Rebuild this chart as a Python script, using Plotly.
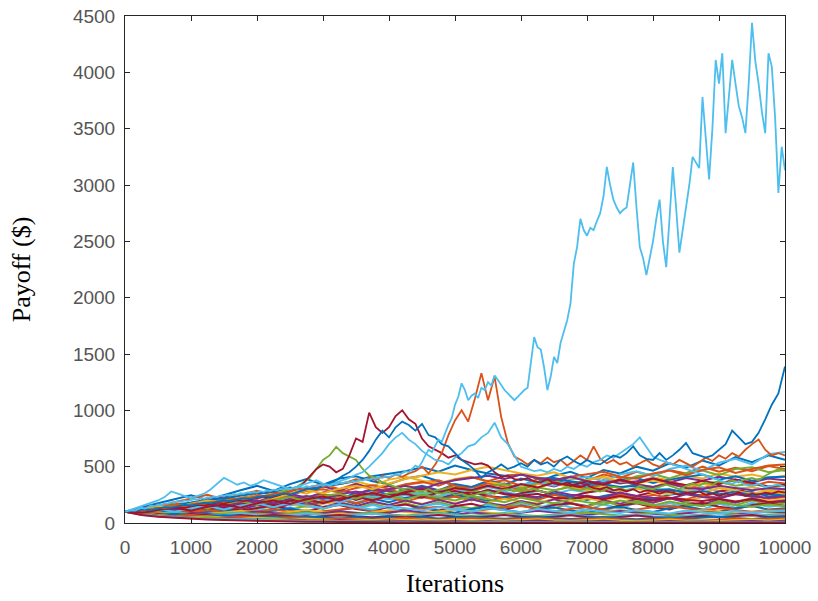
import plotly.graph_objects as go

# MATLAB default colour order
COLORS = ["#0072BD", "#D95319", "#EDB120", "#7E2F8E", "#77AC30", "#4DBEEE", "#A2142F"]

X_TICKS = [0, 1000, 2000, 3000, 4000, 5000, 6000, 7000, 8000, 9000, 10000]
Y_TICKS = [0, 500, 1000, 1500, 2000, 2500, 3000, 3500, 4000, 4500]

# ---- background paths (read every 250 iterations) ----
n1 = [100,125,110,140,165,135,170,195,160,205,230,190,240,215,265,290,250,300,330,290,345,320,370,340,395,360,420,455,400,470,440,500,465,530,490,555,510,585,540,600,560]
n2 = [100,118,140,115,160,185,150,195,170,220,245,205,255,230,215,270,300,255,310,285,340,300,355,380,330,390,350,410,375,430,400,455,420,470,440,500,455,490,460,505,480]
n3 = [100,85,115,140,110,150,125,170,195,160,200,180,225,250,210,255,230,275,300,260,305,280,320,295,340,310,355,330,370,345,390,360,405,380,420,395,440,410,430,400,420]
n4 = [100,120,145,125,170,200,165,215,190,235,260,225,270,300,255,305,330,290,320,280,310,290,330,350,305,355,325,365,340,380,350,370,395,360,400,375,410,385,360,395,380]
n5 = [100,88,110,130,105,140,160,130,170,190,160,200,215,185,225,245,210,250,270,235,275,295,255,300,280,315,290,320,300,340,310,345,320,355,325,350,365,330,350,315,330]
n6 = [100,112,90,120,140,115,150,170,135,175,195,160,200,220,180,225,245,210,250,270,230,215,255,280,245,285,255,295,270,305,280,315,290,270,300,320,285,305,320,290,300]
n7 = [100,120,140,115,150,175,140,180,200,165,210,185,230,250,205,245,225,265,240,215,255,275,240,225,265,290,250,235,270,290,255,240,275,295,260,245,280,300,265,255,270]
n8 = [100,80,105,125,95,135,115,150,170,135,175,150,190,210,170,215,185,225,245,205,250,220,195,230,255,215,260,235,205,240,265,230,210,250,270,235,225,265,275,235,250]
n9 = [100,115,130,105,140,160,125,165,180,145,185,165,195,215,175,210,225,190,230,205,235,200,240,210,245,205,250,215,245,210,255,220,250,225,210,250,220,260,235,215,230]
n10 = [100,82,112,92,122,140,108,145,160,125,165,140,170,190,150,185,160,195,170,205,175,210,180,215,190,175,215,185,220,190,230,200,180,220,195,230,205,185,225,195,210]
n11 = [100,115,90,125,100,135,155,115,160,130,165,185,140,180,150,190,160,200,165,205,170,210,175,155,195,165,210,175,150,200,170,215,180,220,185,165,210,180,220,185,200]
n12 = [100,120,95,80,110,135,105,90,125,150,115,155,125,165,130,170,135,175,140,185,150,130,170,140,185,150,130,175,145,190,155,195,160,140,185,150,195,160,200,165,180]
n13 = [100,88,75,100,120,95,80,110,135,100,140,105,145,165,125,160,130,110,150,170,135,115,160,125,170,130,175,140,115,165,130,180,140,175,145,120,170,135,180,145,160]
n14 = [100,115,130,105,90,120,140,110,135,155,120,100,140,160,125,105,145,165,130,110,150,170,135,115,155,125,160,175,140,120,155,175,140,120,160,180,145,125,160,175,150]
n15 = [100,90,110,92,78,100,120,95,82,110,130,100,85,115,135,105,88,120,140,110,92,125,145,115,95,125,140,110,92,125,145,115,98,130,148,118,100,130,150,120,130]
n16 = [100,110,92,80,98,115,95,82,102,120,100,85,105,122,135,110,95,115,132,145,120,100,122,140,150,125,105,125,142,120,100,120,140,150,128,110,130,115,100,115,120]
n17 = [100,90,82,98,86,76,92,108,94,82,100,115,98,86,76,96,112,98,86,102,120,104,92,80,100,118,102,88,78,98,116,102,88,78,96,114,100,86,96,108,100]
n18 = [100,88,80,72,90,80,70,86,102,88,78,70,88,104,90,78,94,110,96,84,74,94,82,72,90,108,94,82,72,90,106,94,82,72,86,100,88,76,88,100,90]
n19 = [100,92,80,90,78,70,82,94,80,70,82,94,78,68,80,92,76,66,78,90,74,64,76,88,72,62,74,86,96,78,66,78,90,74,64,76,88,74,64,76,80]
n20 = [100,86,76,86,74,64,74,86,72,62,72,84,70,60,70,82,68,58,68,80,66,56,66,78,64,54,66,78,62,52,64,76,60,50,62,74,58,66,78,64,70]
n21 = [100,90,78,68,80,70,60,70,60,70,58,50,60,72,58,50,60,50,58,70,56,48,58,70,56,46,56,68,54,44,54,66,52,42,52,64,50,58,70,54,60]
n22 = [100,86,72,82,68,58,68,56,48,58,48,58,48,40,50,40,50,40,50,40,48,56,44,38,46,56,44,36,44,54,42,34,42,52,40,48,56,44,36,46,50]
n23 = [100,84,70,60,70,58,48,56,46,40,48,40,34,42,34,28,36,44,34,28,36,44,34,28,36,44,32,26,34,42,30,24,32,40,30,24,32,40,28,36,40]
n24 = [100,82,70,58,50,58,46,38,46,36,30,38,30,24,32,26,34,26,32,24,30,22,28,20,26,34,24,18,24,32,22,16,22,30,20,26,18,24,32,22,30]
n25 = [100,80,66,56,48,40,46,36,30,26,32,24,20,26,20,16,22,16,20,14,18,12,16,12,16,22,14,10,14,20,12,8,12,18,10,14,8,12,18,12,20]
n26 = [100,78,62,54,44,50,38,32,36,28,24,20,24,18,16,20,14,12,16,12,10,14,8,12,10,8,12,7,10,8,6,10,6,8,6,10,5,8,6,5,12]
n27 = [100,74,60,48,42,36,30,34,26,22,18,16,20,14,11,14,10,9,12,8,7,9,6,8,6,5,7,4,6,5,4,6,5,4,6,5,4,5,6,4,8]
n28 = [100,72,56,46,38,32,26,22,18,15,13,11,10,8,7,8,6,5,6,4,4,5,3,3,4,3,2,3,3,2,3,3,2,3,2,3,2,2,3,2,4]
n29 = [100,140,175,210,245,205,250,290,330,285,345,390,340,395,415,370,345,395,420,370,340,315,375,340,310,365,390,345,315,355,385,400,355,385,410,430,385,415,375,405,410]
n30 = [100,125,150,185,215,250,205,250,285,240,290,310,345,300,350,305,285,340,360,380,330,305,355,320,295,345,370,330,305,355,380,340,315,365,335,305,355,380,330,365,350]
n31 = [100,120,150,180,150,195,225,250,215,270,295,260,320,345,370,330,385,410,375,350,390,410,365,340,320,345,360,310,290,320,280,305,270,255,295,270,310,285,260,290,280]
n32 = [100,130,160,135,180,210,235,200,255,280,240,300,325,285,345,300,280,265,315,285,260,250,295,265,240,230,280,250,235,225,270,240,225,215,255,230,220,255,235,225,240]
n33 = [100,115,130,150,125,160,180,150,190,210,180,220,240,205,250,220,265,285,250,295,315,280,325,345,305,355,375,335,385,405,365,415,435,395,445,465,425,480,495,450,470]
n34 = [100,110,125,140,115,150,165,140,175,190,160,200,215,185,225,240,210,250,265,235,280,300,320,290,340,365,330,385,410,370,430,460,415,480,510,465,535,570,520,610,630]
n35 = [100,118,130,108,140,160,130,165,185,150,195,210,175,215,235,200,245,260,225,270,285,250,290,255,240,260,225,215,235,210,240,215,200,225,205,195,215,190,210,185,190]
n36 = [100,115,140,165,180,205,220,245,265,280,315,285,325,345,375,415,440,460,495,455,510,470,440,420,430,395,400,370,350,345,320,330,295,300,270,285,255,280,245,265,250]
n37 = [100,125,145,170,150,175,200,220,245,215,260,285,300,270,310,335,305,345,365,330,385,405,370,415,435,400,380,410,435,455,410,395,440,465,425,470,495,445,480,510,520]
n38 = [100,120,150,135,170,200,180,215,245,220,260,290,265,305,330,300,350,390,420,450,430,470,500,470,440,420,450,400,380,410,370,350,380,340,320,350,310,290,320,280,260]
n39 = [100,110,130,115,145,170,150,180,200,175,215,240,215,255,280,250,300,330,300,350,380,400,420,390,430,400,380,410,370,350,380,340,320,350,310,300,330,310,290,310,300]
n40 = [100,125,105,140,165,130,170,195,160,205,230,190,240,260,215,265,240,210,250,225,200,240,210,185,225,195,175,210,185,165,200,175,155,190,165,150,180,160,145,165,150]
n41 = [100,110,125,100,130,150,120,155,175,140,180,150,130,165,140,120,150,130,110,140,120,100,130,110,95,125,105,90,120,100,88,115,98,85,110,95,82,105,92,100,110]
n42 = [100,90,115,135,110,145,165,135,175,200,170,210,235,200,245,265,230,275,300,265,310,290,330,300,345,315,360,330,370,340,385,350,395,360,335,375,345,385,355,325,340]

BACKGROUND = [n1, n2, n3, n4, n5, n6, n7, n8, n9, n10, n11, n12, n13, n14,
              n15, n16, n17, n18, n19, n20, n21, n22, n23, n24, n25, n26, n27, n28,
              n29, n30, n31, n32, n33, n34, n35, n36, n37, n38, n39, n40, n41, n42]

# ---- prominent paths (read every 100 iterations) ----
green_path = [100,110,105,120,130,125,140,150,145,160,170,165,180,190,185,200,210,205,220,230,225,240,250,260,280,300,320,360,400,480,560,600,675,620,590,560,480,420,400,360,340,320,300,310,290,280,300,270,260,280,250,260,240,250,270,280,260,290,300,280,310,290,300,280,270,290,300,320,300,290,310,290,280,300,320,310,290,300,330,310,300,320,340,320,300,330,350,330,360,340,370,350,380,360,390,400,380,420,450,480,460]
red_path = [100,95,105,115,110,120,130,125,140,135,150,160,155,170,180,175,190,200,195,210,220,230,225,240,260,280,300,350,420,480,520,500,450,480,600,750,720,980,850,800,850,950,1000,920,880,750,680,650,620,580,600,560,540,520,530,510,450,410,420,390,380,400,370,360,390,350,340,360,330,320,340,310,300,320,290,300,280,300,270,290,280,260,280,270,250,270,260,280,250,260,240,260,250,270,240,260,250,270,260,280,270]
orange_path = [100,105,115,110,125,135,130,145,155,150,165,175,170,185,195,190,205,215,210,225,240,235,250,265,260,280,300,290,310,330,320,340,360,350,370,390,380,400,380,420,400,430,410,440,460,500,440,520,620,780,910,1000,900,1100,1330,1090,1300,940,710,590,560,520,560,530,580,540,560,510,550,600,560,680,570,530,560,520,540,500,530,560,520,500,540,520,560,530,500,540,580,550,600,570,620,590,650,700,740,650,600,620,600]
blue_path = [100,105,110,120,115,130,140,135,150,160,155,170,180,175,190,200,195,210,220,215,230,240,235,250,260,255,270,290,310,300,330,350,380,420,450,500,560,640,740,820,760,850,900,870,820,880,780,760,700,680,620,560,520,470,400,450,480,520,480,500,530,500,560,520,540,500,560,590,550,520,560,530,520,560,600,580,620,680,600,570,560,620,560,600,650,710,620,600,580,600,650,700,820,760,700,720,800,920,1050,1150,1390]
cyan_path = [100,120,140,160,180,200,230,280,260,240,220,240,260,300,350,400,370,340,360,330,350,380,360,340,320,300,320,340,360,380,350,330,360,380,400,430,450,500,560,620,700,760,800,740,700,640,600,560,550,520,580,620,680,700,760,800,890,760,700,600,500,480,460,470,450,480,460,500,480,520,500,540,560,600,580,620,660,700,760,680,590,560,540,520,500,480,460,440,420,400,380,360,350,370,340,330,350,320,330,340,320]

# the large light-blue path (read every 50 iterations)
big_path = [100,
    105,115,110,125,135,128,145,155,148,165,160,175,170,185,180,195,188,200,195,205,
    212,205,220,215,228,222,235,230,242,238,250,245,258,252,265,260,272,268,275,270,
    282,276,290,284,296,290,302,296,308,302,314,308,320,314,326,320,332,326,338,330,
    342,336,350,344,358,352,366,360,374,368,382,376,390,384,398,392,406,400,414,408,
    420,432,426,445,460,452,480,510,495,540,600,650,630,690,740,720,800,870,930,1050,
    1120,1240,1180,1090,1130,1150,1110,1200,1180,1250,1220,1310,1270,1220,1180,1150,1120,1090,1120,1150,
    1180,1200,1420,1650,1560,1540,1380,1180,1300,1475,1420,1600,1700,1800,1950,2300,2450,2700,2600,2550,
    2620,2600,2680,2750,2900,3160,3000,2870,2800,2750,2780,2800,3000,3200,2800,2450,2350,2200,2350,2500,
    2700,2870,2500,2270,2700,3160,2800,2400,2600,2800,3000,3250,3200,3150,3780,3400,3050,3500,4110,3900,
    4170,3460,3800,4110,3900,3700,3600,3460,3900,4440,4100,3900,3650,3460,4170,4050,3600,2930,3340,3130]

PROMINENT = [
    (green_path, "#77AC30"),
    (red_path, "#A2142F"),
    (orange_path, "#D95319"),
    (cyan_path, "#4DBEEE"),
    (blue_path, "#0072BD"),
    (big_path, "#4DBEEE"),
]

X_MAX = 10000


def xs_for(values):
    n = len(values)
    return [i * X_MAX / (n - 1) for i in range(n)]


fig = go.Figure()
for k, vals in enumerate(BACKGROUND):
    fig.add_trace(go.Scatter(x=xs_for(vals), y=vals, mode="lines",
                             line=dict(color=COLORS[k % len(COLORS)], width=2),
                             hoverinfo="skip"))
for vals, col in PROMINENT:
    fig.add_trace(go.Scatter(x=xs_for(vals), y=vals, mode="lines",
                             line=dict(color=col, width=1.8),
                             hoverinfo="skip"))

axis_common = dict(
    showgrid=False, zeroline=False, showline=True, linecolor="#262626", linewidth=1,
    mirror="ticks", ticks="inside", ticklen=5, tickcolor="#262626", automargin=False,
    ticklabeloverflow="allow",
    tickfont=dict(family="Liberation Sans, Arial, sans-serif", size=19, color="#555555"),
)

fig.update_layout(
    width=818, height=601,
    margin=dict(l=125, r=33, t=16, b=78),
    paper_bgcolor="white", plot_bgcolor="white",
    showlegend=False,
    xaxis=dict(range=[0, 10000], tickvals=X_TICKS, ticktext=[str(v) for v in X_TICKS],
               title=dict(text="Iterations", standoff=17,
                          font=dict(family="Liberation Serif, Times New Roman, serif", size=26, color="black")),
               ticklabelstandoff=7,
               **axis_common),
    yaxis=dict(range=[0, 4500], tickvals=Y_TICKS, ticktext=[str(v) for v in Y_TICKS],
               title=dict(text="Payoff ($)", standoff=34,
                          font=dict(family="Liberation Serif, Times New Roman, serif", size=26, color="black")),
               ticklabelstandoff=5,
               **axis_common),
)

# remove the default 8px page margin so the figure fills the 818x601 window exactly
fig.write_html("out.html",
               config={"displayModeBar": False},
               post_script="document.body.style.margin='0px';document.body.style.overflow='hidden';")
